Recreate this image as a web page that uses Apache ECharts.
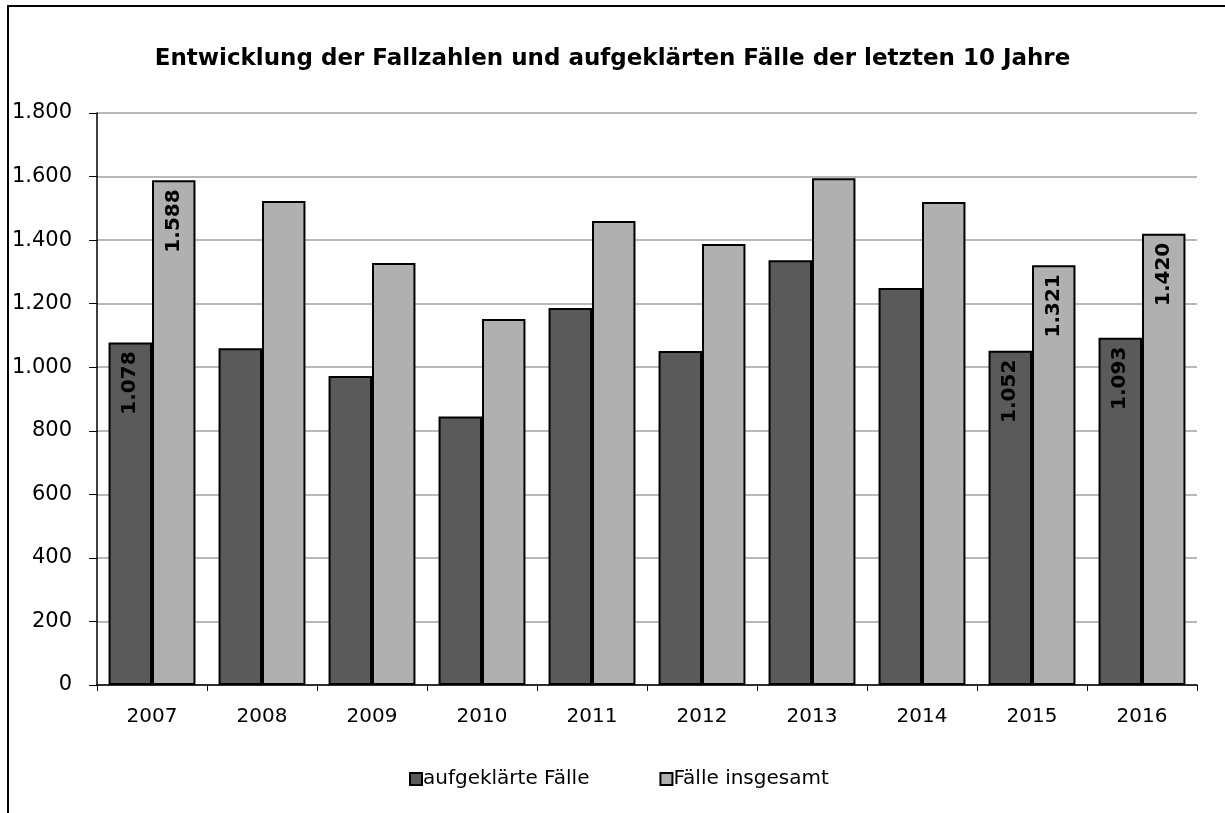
<!DOCTYPE html>
<html>
<head>
<meta charset="utf-8">
<script src="https://cdn.jsdelivr.net/npm/echarts@6/dist/echarts.min.js"></script>
<style>
  html, body { margin: 0; padding: 0; background: #fff; }
  #chart { width: 1225px; height: 813px; }
</style>
</head>
<body>
<div id="chart"></div>
<script>
// Daten
const jahre = ['2007', '2008', '2009', '2010', '2011', '2012', '2013', '2014', '2015', '2016'];
const aufgeklaert = [1078, 1060, 972, 845, 1186, 1051, 1337, 1249, 1052, 1093];
const insgesamt = [1588, 1523, 1328, 1152, 1460, 1388, 1595, 1520, 1321, 1420];
const beschriftet = ['2007', '2015', '2016']; // nur diese Jahre haben Werte-Labels
const yTicks = [0, 200, 400, 600, 800, 1000, 1200, 1400, 1600, 1800];

const FONT = 'DejaVu Sans, Arial';
const fmt = v => v >= 1000 ? Math.floor(v / 1000) + '.' + String(v % 1000).padStart(3, '0') : String(v);

const barLabel = {
  show: true,
  position: 'insideTop',
  distance: 9,
  rotate: 90,
  align: 'right',
  verticalAlign: 'middle',
  color: '#000',
  fontWeight: 'bold',
  fontSize: 20,
  fontFamily: FONT,
  formatter: p => fmt(p.value)
};

function mkData(values) {
  return values.map((v, i) => beschriftet.includes(jahre[i])
    ? { value: v, label: barLabel }
    : { value: v });
}

const chart = echarts.init(document.getElementById('chart'));
chart.setOption({
  backgroundColor: '#fff',
  animation: false,
  textStyle: { fontFamily: FONT },
  title: {
    text: 'Entwicklung der Fallzahlen und aufgeklärten Fälle der letzten 10 Jahre',
    left: 'center',
    top: 43,
    textStyle: { fontSize: 23, fontWeight: 'bold', color: '#000', fontFamily: FONT }
  },
  graphic: [{
    type: 'rect',
    shape: { x: 8, y: 6, width: 1230, height: 820 },
    style: { fill: 'none', stroke: '#000', lineWidth: 2 },
    silent: true
  }],
  legend: {
    top: 764,
    left: 404,
    itemGap: 70,
    itemWidth: 12,
    itemHeight: 12,
    icon: 'rect',
    textStyle: { fontSize: 20, color: '#000', padding: [0, 0, 0, -4], fontFamily: FONT },
    data: ['aufgeklärte Fälle', 'Fälle insgesamt']
  },
  grid: { left: 97, right: 28, top: 113, bottom: 128, containLabel: false },
  xAxis: {
    type: 'category',
    data: jahre,
    axisLine: { lineStyle: { color: '#000', width: 1.5 } },
    axisTick: { show: true, length: 6, lineStyle: { color: '#000' } },
    axisLabel: { fontSize: 20, color: '#000', margin: 22, fontFamily: FONT }
  },
  yAxis: {
    type: 'value',
    min: yTicks[0],
    max: yTicks[yTicks.length - 1],
    interval: 200,
    axisLine: { show: true, lineStyle: { color: '#000', width: 1.5 } },
    axisTick: { show: true, length: 8, lineStyle: { color: '#000' } },
    axisLabel: { fontSize: 21, color: '#000', margin: 25, fontFamily: FONT, formatter: v => fmt(v) },
    splitLine: { lineStyle: { color: '#a0a0a0', width: 1.5 } }
  },
  series: [
    {
      name: 'aufgeklärte Fälle',
      type: 'bar',
      data: mkData(aufgeklaert),
      barGap: '0%',
      barCategoryGap: '21%',
      itemStyle: { color: '#5a5a5a', borderColor: '#000', borderWidth: 2 }
    },
    {
      name: 'Fälle insgesamt',
      type: 'bar',
      data: mkData(insgesamt),
      itemStyle: { color: '#b0b0b0', borderColor: '#000', borderWidth: 2 }
    }
  ]
});
</script>
</body>
</html>
